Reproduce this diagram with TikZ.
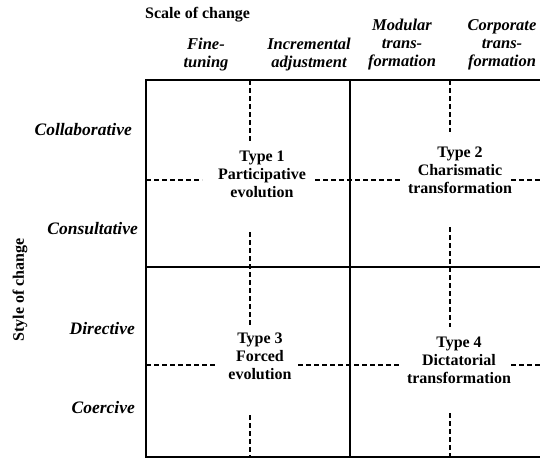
\documentclass[tikz,border=0pt]{standalone}
\usepackage{fontspec}
\setmainfont{Liberation Serif}
\begin{document}
\begin{tikzpicture}[x=1pt,y=-1pt,
  frame/.style={line width=2.2pt},
  guide/.style={line width=1.1pt,dash pattern=on 5pt off 3pt},
  lbl/.style={font=\fontsize{16}{18}\selectfont\bfseries,inner sep=0pt},
  cell/.style={lbl,align=center},
  colhead/.style={lbl,align=center,font=\fontsize{16.5}{18}\selectfont\bfseries\itshape},
  rowhead/.style={lbl,anchor=east,font=\fontsize{17.5}{18}\selectfont\bfseries\itshape}]
\useasboundingbox (0,0) rectangle (540,459);

% grid frame (open on the right)
\coordinate (TL) at (146,80);
\coordinate (TR) at (540,80);
\coordinate (ML) at (146,267);
\coordinate (MR) at (540,267);
\coordinate (BL) at (146,457);
\coordinate (BR) at (540,457);
\coordinate (TM) at (350,80);
\coordinate (BM) at (350,457);
\draw[frame] (TR) -- (TL) -- (BL) -- (BR);
\draw[frame] (ML) -- (MR);
\draw[frame] (TM) -- (BM);

% dashed sub-divisions
\draw[guide] (250,80) -- (250,143);
\draw[guide] (250,232) -- (250,327);
\draw[guide] (250,415) -- (250,457);
\draw[guide] (450,80) -- (450,132);
\draw[guide] (450,227) -- (450,327);
\draw[guide] (450,413) -- (450,457);
\draw[guide] (146,180) -- (202,180);
\draw[guide] (315,180) -- (400,180);
\draw[guide] (511,180) -- (540,180);
\draw[guide] (146,365) -- (215,365);
\draw[guide] (298,365) -- (400,365);
\draw[guide] (511,365) -- (540,365);

% quadrant labels
\node[cell] (t1) at (262,174) {Type 1\\Participative\\evolution};
\node[cell] (t2) at (460,170) {Type 2\\Charismatic\\transformation};
\node[cell] (t3) at (260,356) {Type 3\\Forced\\evolution};
\node[cell] (t4) at (459,360) {Type 4\\Dictatorial\\transformation};

% axis titles
\node[lbl,anchor=west] (scale) at (145,15) {Scale of change};
\node[lbl,rotate=90] (style) at (20,290) {Style of change};

% column headings
\node[colhead] (c1) at (206,55) {Fine-\\tuning};
\node[colhead] (c2) at (309,55) {Incremental\\adjustment};
\node[colhead] (c3) at (402,45) {Modular\\trans-\\formation};
\node[colhead] (c4) at (502,45) {Corporate\\trans-\\formation};

% row headings
\node[rowhead] (r1) at (132,130) {Collaborative};
\node[rowhead] (r2) at (138,229) {Consultative};
\node[rowhead] (r3) at (135,329) {Directive};
\node[rowhead] (r4) at (135,408) {Coercive};
\end{tikzpicture}
\end{document}
